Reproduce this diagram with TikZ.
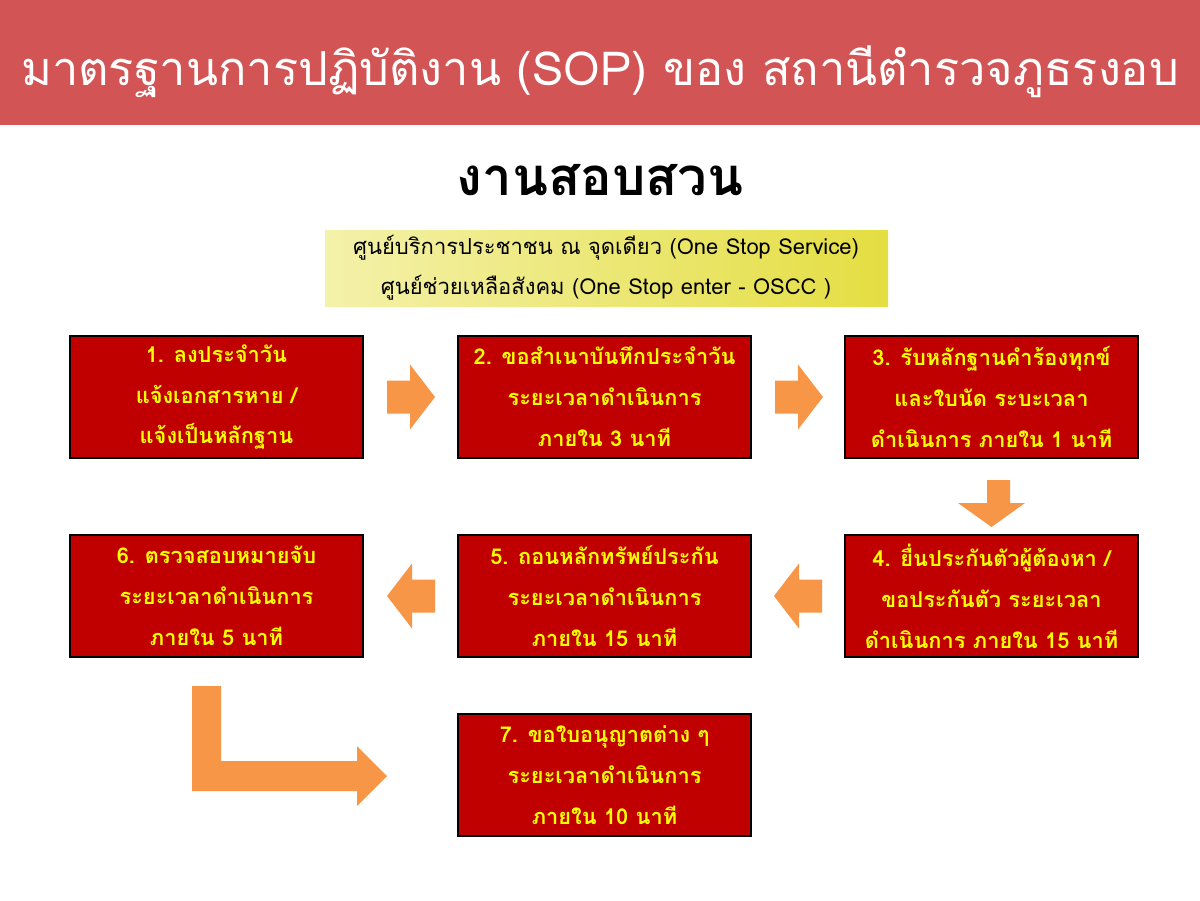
\documentclass[tikz,border=0pt]{standalone}
\usepackage{fontspec}
\newfontfamily\thai[Script=Thai]{Loma}
\usetikzlibrary{calc}
\definecolor{banner}{RGB}{211,84,84}
\definecolor{boxred}{RGB}{192,0,0}
\definecolor{arrorange}{RGB}{247,150,70}
\definecolor{txtyellow}{RGB}{255,255,0}
\definecolor{yelL}{RGB}{244,241,170}
\definecolor{yelR}{RGB}{228,222,66}
\tikzset{
  stepbox/.style={draw=black, line width=0.7pt, fill=boxred, text=txtyellow,
    minimum width=5.86cm, minimum height=2.44cm, inner sep=0pt, align=center,
    font=\thai\bfseries\fontsize{12.4}{23.3}\selectfont},
  arr/.style={fill=arrorange, draw=none},
}
\begin{document}
\begin{tikzpicture}[x=0.02cm, y=-0.02cm]
\useasboundingbox (0,0) rectangle (1200,900);
\fill[white] (0,0) rectangle (1200,900);
% banner
\fill[banner] (0,0) rectangle (1200,125);
\node[text=white, font=\thai\fontsize{26.7}{32}\selectfont] (title) at (600,72)
  {มาตรฐานการปฏิบัติงาน (SOP) ของ สถานีตำรวจภูธรงอบ};
% heading
\node[text=black, font=\thai\bfseries\fontsize{30}{36}\selectfont] (head) at (600,180) {งานสอบสวน};
% yellow box
\shade[left color=yelL, right color=yelR] (325,230) rectangle (888,306);
\node[text=black, align=center, font=\thai\fontsize{12.5}{22.7}\selectfont] (osc) at (606,268)
  {ศูนย์บริการประชาชน ณ จุดเดียว (One Stop Service)\\ศูนย์ช่วยเหลือสังคม (One Stop enter - OSCC )};
% steps
\node[stepbox] (s1) at (216.5,397) {1. ลงประจำวัน\\แจ้งเอกสารหาย /\\แจ้งเป็นหลักฐาน};
\node[stepbox] (s2) at (604.5,397) {2. ขอสำเนาบันทึกประจำวัน\\ระยะเวลาดำเนินการ\\ภายใน 3 นาที};
\node[stepbox] (s3) at (991.5,397) {3. รับหลักฐานคำร้องทุกข์\\และใบนัด ระบะเวลา\\ดำเนินการ ภายใน 1 นาที};
\node[stepbox] (s4) at (991.5,596) {4. ยื่นประกันตัวผู้ต้องหา /\\ขอประกันตัว ระยะเวลา\\ดำเนินการ ภายใน 15 นาที};
\node[stepbox] (s5) at (604.5,596) {5. ถอนหลักทรัพย์ประกัน\\ระยะเวลาดำเนินการ\\ภายใน 15 นาที};
\node[stepbox] (s6) at (216.5,596) {6. ตรวจสอบหมายจับ\\ระยะเวลาดำเนินการ\\ภายใน 5 นาที};
\node[stepbox] (s7) at (604.5,775) {7. ขอใบอนุญาตต่าง ๆ\\ระยะเวลาดำเนินการ\\ภายใน 10 นาที};
% right arrows
\foreach \x/\y in {387/397, 775/397}{
  \fill[arr] (\x,\y-16.5) -- ++(23,0) -- ++(0,-16) -- ++(25,32.5) -- ++(-25,32.5)
    -- ++(0,-16) -- ++(-23,0) -- cycle;}
% left arrows
\foreach \x/\y in {435/596, 822/596}{
  \fill[arr] (\x,\y-16.5) -- ++(-23,0) -- ++(0,-16) -- ++(-25,32.5) -- ++(25,32.5)
    -- ++(0,-16) -- ++(23,0) -- cycle;}
% down arrow
\fill[arr] (987,480) -- (1010,480) -- (1010,503) -- (1025,503) -- (991.5,527)
  -- (958,503) -- (987,503) -- cycle;
% bent arrow
\fill[arr] (192,686) -- (221,686) -- (221,761) -- (357,761) -- (357,746) -- (387,776)
  -- (357,806) -- (357,791) -- (192,791) -- cycle;
\end{tikzpicture}
\end{document}
